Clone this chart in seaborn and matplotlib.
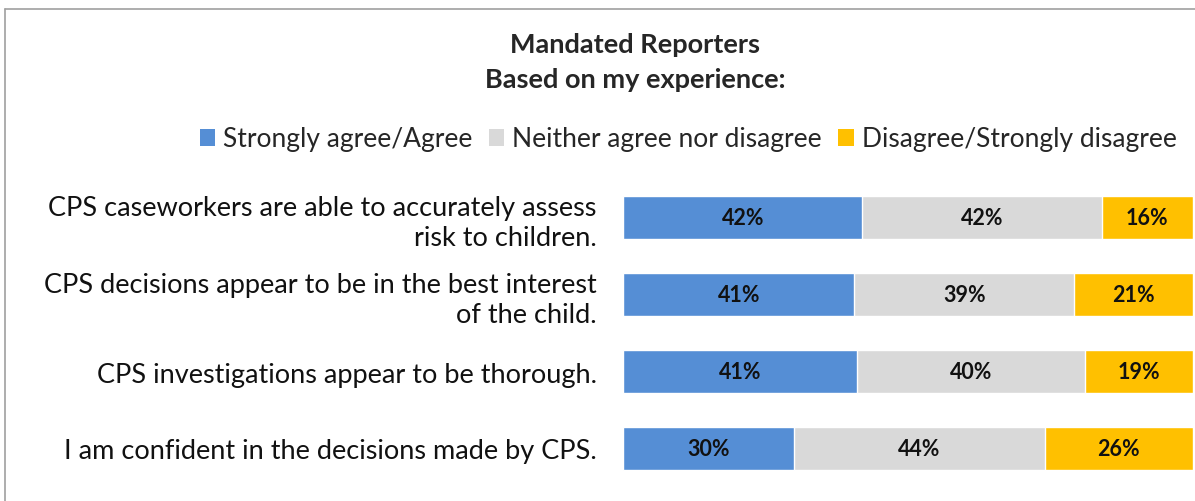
import matplotlib
matplotlib.use("Agg")
import matplotlib.pyplot as plt
import seaborn as sns
import numpy as np
import pandas as pd
from matplotlib.lines import Line2D
from matplotlib.patches import Patch

sns.set_style("white")
plt.rcParams['font.family'] = ['Lato', 'DejaVu Sans']

statements = [
    "CPS caseworkers are able to accurately assess\nrisk to children.",
    "CPS decisions appear to be in the best interest\nof the child.",
    "CPS investigations appear to be thorough.",
    "I am confident in the decisions made by CPS.",
]
series_names = ["Strongly agree/Agree", "Neither agree nor disagree", "Disagree/Strongly disagree"]
agree = [42, 41, 41, 30]
neither = [42, 39, 40, 44]
disagree = [16, 21, 19, 26]
colors = ["#558ED5", "#D9D9D9", "#FFC000"]
title_lines = ["Mandated Reporters", "Based on my experience:"]

vals = np.array([agree, neither, disagree], dtype=float)
shares = vals / vals.sum(axis=0) * 100
cum = np.cumsum(shares, axis=0)

fig = plt.figure(figsize=(11.95, 5.02), dpi=100)
ax = fig.add_axes([623/1195, 14/502, 570/1195, 308/502])

df = pd.DataFrame({"statement": statements})
for i in [2, 1, 0]:
    df["v"] = cum[i]
    sns.barplot(data=df, x="v", y="statement", color=colors[i], orient="h",
                width=0.56, edgecolor="white", linewidth=1, ax=ax, saturation=1)

for j in range(len(statements)):
    start = 0
    for i in range(3):
        ax.text(start + shares[i, j] / 2, j, f"{int(vals[i, j])}%", ha="center", va="center",
                fontsize=15.5, fontweight="bold", color="#111111")
        start += shares[i, j]

ax.set_xlim(0, 100)
ax.set_ylim(3.5, -0.5)
ax.set_xlabel("")
ax.set_ylabel("")
ax.set_xticks([])
ax.tick_params(axis="y", length=0, pad=19, labelsize=19.5, labelcolor="#111111")
for lab in ax.get_yticklabels():
    lab.set_horizontalalignment("right")
    lab.set_multialignment("right")
    lab.set_linespacing(1.25)
for s in ax.spines.values():
    s.set_visible(False)

fig.text(635/1195, 1 - 45/502, title_lines[0], ha="center", va="center", fontsize=19.5, fontweight="bold")
fig.text(635/1195, 1 - 80/502, title_lines[1], ha="center", va="center", fontsize=19.5, fontweight="bold")

handles = [Patch(facecolor=c, edgecolor="none") for c in colors]
fig.legend(handles, series_names, loc="center", bbox_to_anchor=(688/1195, 1 - 140/502),
           ncol=3, frameon=False, fontsize=19, handlelength=0.6, handleheight=0.6,
           handletextpad=0.3, columnspacing=0.6, borderaxespad=0)

fig.add_artist(Line2D([5/1195, 1], [1 - 10/502, 1 - 10/502], color="#A0A0A0", lw=1.2))
fig.add_artist(Line2D([5/1195, 5/1195], [0, 1 - 10/502], color="#A0A0A0", lw=1.2))

fig.savefig("out.png", dpi=100)
